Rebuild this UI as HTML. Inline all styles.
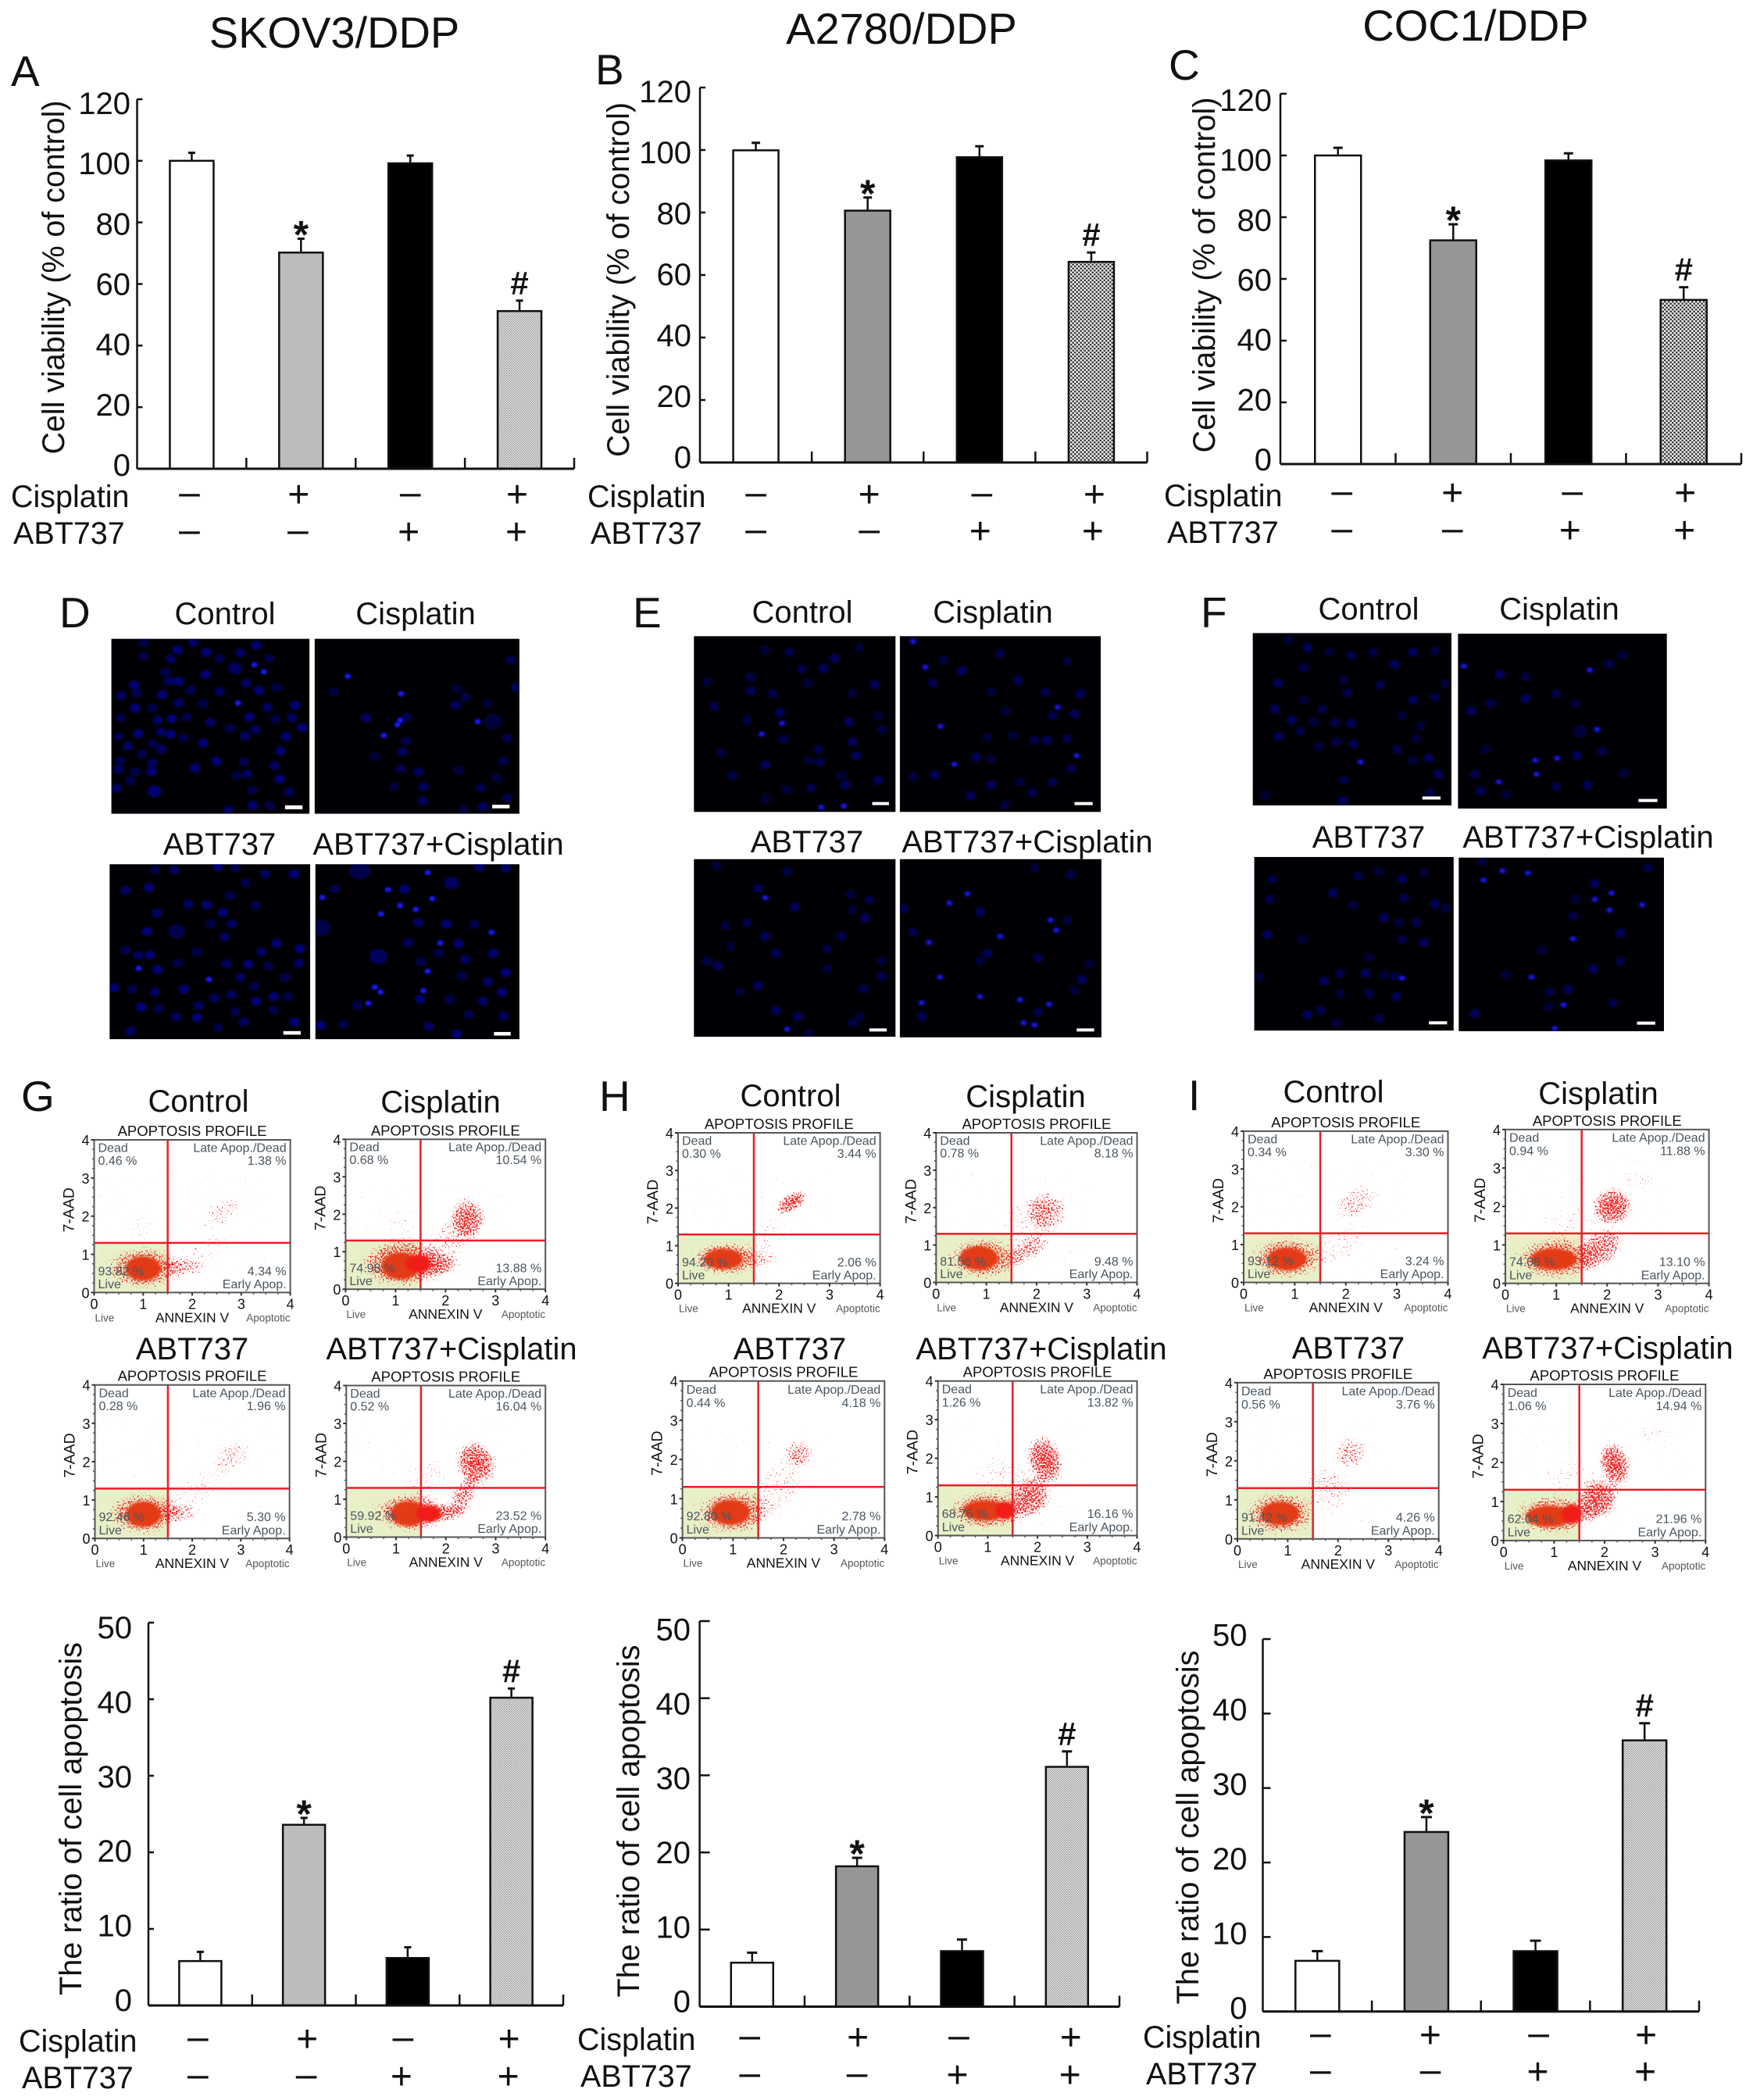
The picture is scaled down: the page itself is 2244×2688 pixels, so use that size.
<!DOCTYPE html>
<html lang="en">
<head>
<meta charset="utf-8">
<title>ABT737 and cisplatin in resistant ovarian cancer cell lines</title>
<style>
html,body{margin:0;padding:0;background:#fff;}
svg{display:block;}
text{font-family:"Liberation Sans",sans-serif;fill:#111;}
.big{font-size:40px;text-anchor:middle;}
.title{font-size:56px;text-anchor:middle;}
.letter{font-size:55px;}
</style>
</head>
<body>
<svg id="figure" xmlns="http://www.w3.org/2000/svg" width="2244" height="2688" viewBox="0 0 2244 2688">
<defs>
<pattern id="checkDark" width="5" height="5" patternUnits="userSpaceOnUse"><rect width="5" height="5" fill="#ececec"/><circle cx="1.2" cy="1.2" r="1.3" fill="#333"/><circle cx="3.7" cy="3.7" r="1.3" fill="#333"/></pattern>
<pattern id="stippleLight" width="3" height="3" patternUnits="userSpaceOnUse"><rect width="3" height="3" fill="#ececec"/><rect width="1.5" height="1.5" fill="#969696"/><rect x="1.5" y="1.5" width="1.5" height="1.5" fill="#a0a0a0"/></pattern>
<radialGradient id="haloFill"><stop offset="0" stop-color="#000" stop-opacity="1"/><stop offset=".6" stop-color="#000" stop-opacity=".75"/><stop offset="1" stop-color="#000" stop-opacity="0"/></radialGradient>
<filter id="speckle" x="-10%" y="-10%" width="120%" height="120%" color-interpolation-filters="sRGB">
<feTurbulence type="fractalNoise" baseFrequency="0.5" numOctaves="2" seed="7" result="noise"/>
<feColorMatrix in="noise" type="matrix" values="0 0 0 0 0 0 0 0 0 0 0 0 0 0 0 1 0 0 0 0" result="noiseAlpha"/>
<feComposite in="SourceAlpha" in2="noiseAlpha" operator="arithmetic" k1="0" k2="0.42" k3="1" k4="-0.8" result="sum"/>
<feComponentTransfer in="sum" result="mask"><feFuncA type="linear" slope="10" intercept="0"/></feComponentTransfer>
<feFlood flood-color="#f01c1c"/>
<feComposite in2="mask" operator="in"/>
</filter>
<filter id="soft" x="-5%" y="-5%" width="110%" height="110%"><feGaussianBlur stdDeviation="2 3"/></filter>
<filter id="coreSoft" x="-20%" y="-20%" width="140%" height="140%"><feGaussianBlur stdDeviation="1.6"/></filter>
</defs>

<text class="title" x="428" y="61">SKOV3/DDP</text>
<text class="title" x="1154" y="56">A2780/DDP</text>
<text class="title" x="1889" y="52">COC1/DDP</text>

<text class="letter" x="14" y="110">A</text>
<text class="letter" x="762" y="108">B</text>
<text class="letter" x="1496" y="102">C</text>
<text class="letter" x="76" y="803">D</text>
<text class="letter" x="810" y="803">E</text>
<text class="letter" x="1537" y="803">F</text>
<text class="letter" x="27" y="1422">G</text>
<text class="letter" x="767" y="1422">H</text>
<text class="letter" x="1521" y="1421">I</text>

<text class="big" x="288" y="799">Control</text>
<text class="big" x="532" y="799">Cisplatin</text>
<text class="big" x="281" y="1094">ABT737</text>
<text class="big" x="561" y="1094">ABT737+Cisplatin</text>
<text class="big" x="1027" y="797">Control</text>
<text class="big" x="1271" y="797">Cisplatin</text>
<text class="big" x="1033" y="1091">ABT737</text>
<text class="big" x="1315" y="1091">ABT737+Cisplatin</text>
<text class="big" x="1752" y="793">Control</text>
<text class="big" x="1996" y="793">Cisplatin</text>
<text class="big" x="1752" y="1085">ABT737</text>
<text class="big" x="2033" y="1085">ABT737+Cisplatin</text>

<text class="big" x="254" y="1423">Control</text>
<text class="big" x="564" y="1424">Cisplatin</text>
<text class="big" x="246" y="1740">ABT737</text>
<text class="big" x="578" y="1740">ABT737+Cisplatin</text>
<text class="big" x="1012" y="1416">Control</text>
<text class="big" x="1313" y="1417">Cisplatin</text>
<text class="big" x="1011" y="1740">ABT737</text>
<text class="big" x="1333" y="1740">ABT737+Cisplatin</text>
<text class="big" x="1707" y="1411">Control</text>
<text class="big" x="2046" y="1413">Cisplatin</text>
<text class="big" x="1726" y="1739">ABT737</text>
<text class="big" x="2058" y="1739">ABT737+Cisplatin</text>

<g id="charts"></g>
<g id="micro"></g>
<g id="flow"></g>
</svg>

<script>
/* ---------- bar chart data ---------- */
const cisplatinSigns = ['–','+','–','+'];
const abt737Signs = ['–','–','+','+'];
const significance = ['','*','','#'];
const viabilityTicks = [0,20,40,60,80,100,120];
const apoptosisTicks = [0,10,20,30,40,50];
const viabilitySkov3 = [100,70.2,99.2,51.2];
const viabilitySkov3Err = [2.6,4.5,2.5,3.4];
const viabilityA2780 = [99.9,80.6,97.7,64.2];
const viabilityA2780Err = [2.4,4.2,3.5,3.0];
const viabilityCoc1 = [100,72.5,98.4,53.2];
const viabilityCoc1Err = [2.5,5.2,2.3,4.1];
const apoptosisSkov3 = [5.8,23.6,6.2,40.2];
const apoptosisSkov3Err = [1.2,0.9,1.4,1.2];
const apoptosisA2780 = [5.7,18.2,7.2,31.1];
const apoptosisA2780Err = [1.3,1.1,1.5,2.0];
const apoptosisCoc1 = [6.8,24.1,8.1,36.4];
const apoptosisCoc1Err = [1.3,2.0,1.4,2.3];

/* ---------- flow cytometry data: dead, late, live, early (%) ---------- */
const flowGControl = ['0.46','1.38','93.82','4.34'];
const flowGCisplatin = ['0.68','10.54','74.98','13.88'];
const flowGAbt = ['0.28','1.96','92.46','5.30'];
const flowGCombo = ['0.52','16.04','59.92','23.52'];
const flowHControl = ['0.30','3.44','94.20','2.06'];
const flowHCisplatin = ['0.78','8.18','81.56','9.48'];
const flowHAbt = ['0.44','4.18','92.80','2.78'];
const flowHCombo = ['1.26','13.82','68.76','16.16'];
const flowIControl = ['0.34','3.30','93.12','3.24'];
const flowICisplatin = ['0.94','11.88','74.08','13.10'];
const flowIAbt = ['0.56','3.76','91.42','4.26'];
const flowICombo = ['1.06','14.94','62.04','21.96'];

/* populations in axis units: annexin, 7-AAD, radius x, radius y, tilt, density */
const coreGControl = [[1,.63,.36,.32,0]];
const haloGControl = [[1,.65,.75,.55,0,.9],[1.8,.65,.5,.22,0,.55],[2.6,2.1,.5,.3,35,.45],[2.1,1,.8,.4,25,.3],[.9,1.7,.3,.4,0,.25]];
const coreGCisplatin = [[1.1,.62,.38,.36,0],[1.45,.68,.25,.24,0]];
const haloGCisplatin = [[1.15,.7,.85,.65,0,.95],[1.8,.65,.5,.3,0,.8],[2.45,1.9,.35,.55,0,.9],[2.1,1.3,.7,.5,45,.5],[1.1,1.8,.5,.5,0,.25]];
const coreGAbt = [[1,.63,.36,.33,0]];
const haloGAbt = [[1,.65,.75,.55,0,.9],[1.7,.65,.5,.22,0,.6],[2.8,2.15,.45,.35,30,.5],[2,1.2,.9,.4,35,.3]];
const coreGCombo = [[1.25,.62,.36,.33,0],[1.65,.62,.25,.22,0]];
const haloGCombo = [[1.3,.65,.75,.5,0,.95],[1.95,.65,.5,.22,0,.8],[2.6,1.95,.4,.6,30,1],[2.35,1.1,.45,.3,60,.8],[1.6,1.6,.5,.5,0,.35]];
const coreHControl = [[.9,.65,.38,.27,0]];
const haloHControl = [[.95,.65,.7,.45,0,.9],[1.7,.65,.4,.25,0,.35],[2.25,2.15,.35,.25,30,.95],[1.8,1.2,.6,.5,45,.3]];
const coreHCisplatin = [[.85,.65,.38,.32,0]];
const haloHCisplatin = [[.95,.65,.7,.55,0,.9],[1.8,.85,.5,.28,30,.7],[2.2,1.9,.4,.55,15,.75],[1.8,1.6,.5,.7,0,.35]];
const coreHAbt = [[.95,.65,.38,.32,0]];
const haloHAbt = [[1,.65,.75,.55,0,.9],[2.3,2.15,.3,.35,0,.7],[1.9,1.3,.7,.6,45,.4]];
const coreHCombo = [[.95,.65,.45,.26,0],[1.35,.65,.2,.22,0]];
const haloHCombo = [[1,.65,.8,.5,0,.9],[1.85,1,.45,.5,40,.95],[2.15,1.95,.35,.65,15,1],[1.3,1.6,.6,.5,0,.35]];
const coreIControl = [[.85,.62,.38,.3,0]];
const haloIControl = [[.85,.65,.7,.55,0,.9],[2.2,2.1,.5,.4,30,.55],[1.85,1,.6,.45,30,.4]];
const coreICisplatin = [[.95,.63,.45,.28,0]];
const haloICisplatin = [[1,.65,.8,.55,0,.9],[1.85,.9,.55,.45,35,.85],[2.1,2,.4,.5,30,1],[1.3,1.6,.6,.5,0,.3],[2.6,2.7,.35,.25,0,.35]];
const coreIAbt = [[.85,.65,.38,.3,0]];
const haloIAbt = [[.85,.65,.7,.55,0,.9],[2.25,2.2,.35,.4,30,.65],[1.8,1.3,.55,.6,0,.45]];
const coreICombo = [[.9,.62,.45,.27,0],[1.35,.68,.2,.24,0]];
const haloICombo = [[1,.65,.8,.5,0,.9],[1.85,1.05,.45,.5,40,1],[2.2,1.95,.3,.6,15,1],[1.3,1.6,.6,.5,0,.3],[3,2.7,.35,.25,0,.3]];

const flowXTicks = [0,1,2,3,4];
const flowYTicks = [0,1,2,3,4];
const gateAnnexin = 1.5;
const gateAad = 1.3;

const NS = 'http://www.w3.org/2000/svg';
function add(parent, tag, attrs, text) {
  const node = document.createElementNS(NS, tag);
  for (const k in attrs) node.setAttribute(k, attrs[k]);
  if (text !== undefined) node.textContent = text;
  parent.appendChild(node);
  return node;
}

/* ---------- bar charts ---------- */
const chartsRoot = document.getElementById('charts');
function drawBarChart(c) {
  const g = add(chartsRoot, 'g', {});
  
  
  const maxTick = c.ticks[c.ticks.length - 1];
  const yScale = v => c.y0 + (c.yTop - c.y0) * v / maxTick;
  const band = (c.right - c.left) / c.values.length;
  const xCenter = i => c.left + band * (i + 0.5);

  c.values.forEach((v, i) => {
    const top = yScale(v);
    const bar = add(g, 'rect', {x: xCenter(i) - c.barW / 2, y: top, width: c.barW, height: c.y0 - top, fill: c.fills[i], stroke: '#111', 'stroke-width': 2.5});
    
    
    const errTop = yScale(v + c.errors[i]);
    const stem = add(g, 'line', {x1: xCenter(i), x2: xCenter(i), y1: top, y2: errTop, stroke: '#111', 'stroke-width': 2.5});
    
    
    const cap = add(g, 'line', {x1: xCenter(i) - c.capW / 2, x2: xCenter(i) + c.capW / 2, y1: errTop, y2: errTop, stroke: '#111', 'stroke-width': 3});
    
    
    if (significance[i] === '*') {
      const star = add(g, 'text', {x: xCenter(i), y: errTop + 12, 'font-size': 50, 'font-weight': 'bold', 'text-anchor': 'middle'}, '*');
      
      
    }
    if (significance[i] === '#') {
      const hash = add(g, 'text', {x: xCenter(i), y: errTop - 8, 'font-size': 42, 'font-weight': 'bold', 'text-anchor': 'middle'}, '#');
      
      
    }
  });

  const yAxis = add(g, 'line', {x1: c.left, x2: c.left, y1: c.yTop, y2: c.y0, stroke: '#111', 'stroke-width': 2.5});
  
  
  const xAxis = add(g, 'line', {x1: c.left, x2: c.right, y1: c.y0, y2: c.y0, stroke: '#111', 'stroke-width': 3});
  
  

  for (let i = 1; i <= c.values.length; i++) {
    const xt = add(g, 'line', {x1: c.left + band * i, x2: c.left + band * i, y1: c.y0, y2: c.y0 - 14, stroke: '#111', 'stroke-width': 2.5});
    
    
  }
  c.ticks.forEach((t, i) => {
    const yt = add(g, 'line', {x1: c.left, x2: c.left + c.tickLen, y1: yScale(t), y2: yScale(t), stroke: '#111', 'stroke-width': 2.5});
    
    
    const frac = i / (c.ticks.length - 1);
    const ly = c.labelBottom + (c.labelTop - c.labelBottom) * frac;
    const lab = add(g, 'text', {x: c.labelRight, y: ly + 14, 'font-size': 40, 'text-anchor': 'end'}, String(t));
    
    
  });

  const yTitle = add(g, 'text', {x: c.titleX, y: c.titleY, 'font-size': 39.5, 'text-anchor': 'middle', textLength: c.titleLen, lengthAdjust: 'spacingAndGlyphs', transform: 'rotate(-90 ' + c.titleX + ' ' + c.titleY + ')'}, c.yTitle);
  
  

  const r1 = add(g, 'text', {x: c.row1LabelX, y: c.row1Base, 'font-size': 39.5}, 'Cisplatin');
  
  
  const r2 = add(g, 'text', {x: c.row2LabelX, y: c.row2Base, 'font-size': 39.5}, 'ABT737');
  
  

  cisplatinSigns.forEach((s, i) => {
    const base = c.rowY1 + (s === '+' ? 16 : 13);
    const sign = add(g, 'text', {x: xCenter(i) + c.signShift1[i], y: base, 'font-size': 48, 'text-anchor': 'middle'}, s);
    
    
  });
  abt737Signs.forEach((s, i) => {
    const base = c.rowY2 + (s === '+' ? 16 : 13);
    const sign = add(g, 'text', {x: xCenter(i) + c.signShift2[i], y: base, 'font-size': 48, 'text-anchor': 'middle'}, s);
    
    
  });
}

const viabilityTitle = 'Cell viability (% of control)';
const apoptosisTitle = 'The ratio of cell apoptosis';
drawBarChart({id:'a', values:viabilitySkov3, errors:viabilitySkov3Err, ticks:viabilityTicks, left:175.5, right:735, y0:600, yTop:127, barW:56, capW:9, tickLen:7,
  fills:['#fff','#bcbcbc','#000','url(#stippleLight)'], labelTop:132, labelBottom:595, labelRight:167, yTitle:viabilityTitle, titleX:82, titleY:355, titleLen:453,
  row1LabelX:14, row2LabelX:17, row1Base:649, row2Base:696, rowY1:633, rowY2:681, signShift1:[-3,-3,0,-3], signShift2:[-3,-4,-2,-4]});
drawBarChart({id:'b', values:viabilityA2780, errors:viabilityA2780Err, ticks:viabilityTicks, left:896, right:1468.5, y0:592, yTop:112, barW:58, capW:11, tickLen:7,
  fills:['#fff','#969696','#000','url(#checkDark)'], labelTop:117, labelBottom:585, labelRight:885, yTitle:viabilityTitle, titleX:805, titleY:358, titleLen:454,
  row1LabelX:752, row2LabelX:756, row1Base:649, row2Base:696, rowY1:633, rowY2:680, signShift1:[0,2,3,4], signShift2:[0,2,1,2]});
drawBarChart({id:'c', values:viabilityCoc1, errors:viabilityCoc1Err, ticks:viabilityTicks, left:1639, right:2229, y0:594, yTop:120, barW:59, capW:12, tickLen:8,
  fills:['#fff','#969696','#000','url(#checkDark)'], labelTop:128, labelBottom:588, labelRight:1628, yTitle:viabilityTitle, titleX:1555, titleY:352, titleLen:455,
  row1LabelX:1490, row2LabelX:1494, row1Base:648, row2Base:695, rowY1:631, rowY2:679, signShift1:[5,-1,5,2], signShift2:[5,-1,2,1]});
drawBarChart({id:'g', values:apoptosisSkov3, errors:apoptosisSkov3Err, ticks:apoptosisTicks, left:190, right:721, y0:2567, yTop:2077, barW:54, capW:9, tickLen:7,
  fills:['#fff','#bcbcbc','#000','url(#stippleLight)'], labelTop:2083, labelBottom:2560, labelRight:169, yTitle:apoptosisTitle, titleX:104, titleY:2328, titleLen:452,
  row1LabelX:24, row2LabelX:28, row1Base:2626, row2Base:2673, rowY1:2610, rowY2:2658, signShift1:[-3,4,-6,-3], signShift2:[-3,3,-8,-4]});
drawBarChart({id:'h', values:apoptosisA2780, errors:apoptosisA2780Err, ticks:apoptosisTicks, left:895.6, right:1433, y0:2568.5, yTop:2075, barW:54, capW:13, tickLen:13,
  fills:['#fff','#969696','#000','url(#stippleLight)'], labelTop:2085.5, labelBottom:2561.5, labelRight:884, yTitle:apoptosisTitle, titleX:818, titleY:2331, titleLen:451,
  row1LabelX:739, row2LabelX:743, row1Base:2624, row2Base:2671, rowY1:2608, rowY2:2656, signShift1:[-3,1,-4,5], signShift2:[-3,0,-6,4]});
drawBarChart({id:'i', values:apoptosisCoc1, errors:apoptosisCoc1Err, ticks:apoptosisTicks, left:1616.5, right:2175, y0:2574.7, yTop:2098, barW:56, capW:14, tickLen:10,
  fills:['#fff','#969696','#000','url(#stippleLight)'], labelTop:2092.5, labelBottom:2570, labelRight:1596.5, yTitle:apoptosisTitle, titleX:1534, titleY:2339, titleLen:453,
  row1LabelX:1463, row2LabelX:1467, row1Base:2621, row2Base:2668, rowY1:2605, rowY2:2652, signShift1:[4,5,4,2], signShift2:[4,5,3,1]});

/* ---------- fluorescence micrographs ---------- */
const microRoot = document.getElementById('micro');
let clipCount = 0;
function drawMicrograph(name, zoomTransform, frame, bar, dim, bright, rx, ry, level) {
  const outer = add(microRoot, 'g', {transform: zoomTransform});
  
  
  const id = 'mclip' + (++clipCount);
  const cp = add(outer, 'clipPath', {id: id});
  add(cp, 'rect', {x: frame[0], y: frame[1], width: frame[2] - frame[0], height: frame[3] - frame[1]});
  const bg = add(outer, 'rect', {x: frame[0], y: frame[1], width: frame[2] - frame[0], height: frame[3] - frame[1], fill: '#000004'});
  
  
  const inner = add(add(outer, 'g', {'clip-path': 'url(#' + id + ')'}), 'g', {filter: 'url(#soft)'});
  dim.forEach((p, i) => {
    const k = p[2] || 1;
    const n = add(inner, 'ellipse', {cx: p[0], cy: p[1], rx: rx * k, ry: ry * k, fill: '#0000a0', 'fill-opacity': (0.45 + (i % 3) * 0.13) * level});
    
    
  });
  bright.forEach(p => {
    const n = add(inner, 'ellipse', {cx: p[0], cy: p[1], rx: rx * 0.6, ry: ry * 0.6, fill: '#1414ee'});
    
    
  });
  const sb = add(outer, 'rect', {x: bar[0], y: bar[1], width: bar[2] - bar[0], height: bar[3] - bar[1], fill: '#fff'});
  
  
}
const zoomD = 'translate(60,740) scale(0.4464,0.3827)';
const zoomEF = 'translate(770,740) scale(0.9315,0.3953)';
drawMicrograph('d-control', zoomD, [185,203,753,788], [683,760,733,773],
 [[278,216],[420,215],[375,240],[277,260],[355,270],[457,248],[495,268],[555,250],[600,225],[638,268],[540,302,1.3],[455,322],[340,315],[350,345],[378,345],[412,375],[572,352],[608,375],[658,365],[495,380],[250,358],[258,385],[213,393],[330,390],[448,420],[378,418],[252,435],[303,435],[632,432],[712,425],[212,467],[318,475],[358,470],[400,465],[468,482],[580,465],[655,472],[703,467],[732,500],[525,503],[597,507],[262,520],[205,530],[327,515],[355,522],[392,535],[568,528],[685,530],[303,553],[232,562],[448,552],[272,588],[328,572],[670,578],[210,610],[303,618],[487,612],[565,615],[652,628],[424,635],[253,648],[205,640],[300,648],[545,660],[575,655],[668,672],[238,678],[200,703],[308,713,1.3],[590,710],[695,715],[590,760],[640,762],[520,775]],
 [[595,290],[622,313],[548,418]], 15, 15, 1);
drawMicrograph('d-cisplatin', zoomD, [768,203,1355,788], [1277,758,1327,770],
 [[1175,370],[1200,398],[1172,425],[1265,420],[1032,465],[915,467],[1280,480,1.7],[1030,545],[1020,580],[940,597],[1015,638],[1065,648],[1180,642],[1308,612],[1080,698],[995,698],[1245,702],[1078,745],[1290,668],[1330,275],[1345,365],[823,380],[1320,535],[1250,765],[1195,775],[1320,735]],
 [[863,328],[1016,387],[1013,475],[1005,490],[966,526],[1235,480]], 15, 15, .8);
drawMicrograph('d-abt737', zoomD, [180,957,755,1542], [678,1515,728,1527],
 [[310,975],[365,975],[490,965],[540,968],[625,990],[708,990],[570,1020],[225,1045],[293,1035],[525,1062],[405,1090],[458,1093],[598,1095],[315,1120],[505,1118],[470,1155],[530,1157],[287,1182],[372,1182,1.6],[510,1200],[658,1222],[225,1245],[263,1262],[295,1260],[430,1250],[615,1250],[725,1240],[375,1288],[515,1290],[577,1292],[635,1297],[722,1288],[317,1310],[683,1335],[555,1335],[192,1370],[245,1375],[310,1385],[393,1375],[595,1365],[530,1393],[650,1400],[690,1400],[480,1405],[270,1435],[320,1440],[435,1430],[600,1415],[650,1445],[370,1468],[430,1470],[540,1450],[565,1485],[710,1485],[490,1503],[240,1515]],
 [[263,1305],[465,1342]], 15, 15, 1);
drawMicrograph('d-combo', zoomD, [770,957,1355,1542], [1282,1518,1330,1530],
 [[897,978,2],[1160,1020,1.4],[1025,1040],[825,1040],[1315,970],[1240,965],[785,1170,1.8],[1065,1152],[1145,1157],[1225,1158],[1035,1220],[1180,1222],[1123,1255],[950,1265,1.7],[1280,1255],[1072,1282],[1200,1275],[1315,1320],[1190,1330],[1265,1350],[1305,1385],[1155,1410],[1250,1415],[1070,1408],[1210,1460],[1310,1465],[785,1495],[850,1492],[1095,1500],[1175,1525],[890,1430]],
 [[1092,985],[978,1042],[790,1068],[1013,1095],[1105,1072],[1058,1108],[958,1123],[1275,1185],[1128,1220],[1092,1315],[940,1368],[957,1384],[1080,1380],[922,1422]], 15, 15, 1);

drawMicrograph('e-control', zoomEF, [127,188,404,757], [372,725,395,735],
 [[225,232],[258,240],[320,260],[355,225],[275,295],[305,292],[145,335],[205,322],[375,345],[283,340],[235,375],[205,365],[345,375],[155,415],[245,435],[380,445],[200,460],[340,465],[385,490],[250,522],[345,530],[165,565],[298,555],[350,575],[285,590],[300,595],[225,605],[330,640],[180,640],[380,655],[255,685],[288,680],[335,670],[225,715]],
 [[248,470],[220,505],[333,738],[302,742]], 6.5, 15, .8);
drawMicrograph('e-cisplatin', zoomEF, [410,188,686,757], [650,725,675,735],
 [[470,265],[548,245],[495,300],[640,270],[455,340],[572,332],[535,370],[610,370],[658,375],[555,430],[620,445],[650,440],[530,515],[595,525],[612,525],[565,510],[640,520],[515,580],[535,585],[645,617],[458,637],[428,645],[620,662],[535,670],[575,660],[592,695],[507,705],[555,735]],
 [[428,205],[445,288],[627,418],[466,480],[653,575],[485,603]], 6.5, 15, .8);
drawMicrograph('e-abt737', zoomEF, [127,910,404,1485], [368,1458,392,1468],
 [[158,930],[255,950],[215,1005],[342,1025],[368,1042],[265,1065],[345,1075],[200,1115],[362,1100],[170,1125],[330,1160],[225,1160],[178,1190],[310,1200],[240,1215],[385,1240],[145,1240],[160,1255],[310,1265],[385,1290],[215,1320],[190,1340],[360,1330],[240,1400],[355,1420],[345,1440],[270,1420],[285,1475]],
 [[225,1035],[255,1460]], 6.5, 15, .8);
drawMicrograph('e-combo', zoomEF, [410,910,687,1487], [653,1458,677,1468],
 [[595,940],[415,1070],[520,1080],[640,1107],[428,1145],[530,1215],[670,1250],[600,1230],[660,1300],[650,1335],[600,1405],[440,1420],[520,1240],[645,960]],
 [[503,1022],[478,1052],[617,1107],[625,1140],[548,1160],[450,1180],[465,1292],[520,1355],[575,1365],[440,1375],[615,1380],[580,1440],[595,1447]], 6.5, 15, .8);
drawMicrograph('f-control', zoomEF, [895,178,1168,736], [1128,707,1153,717],
 [[945,200],[1030,250],[970,225],[1000,240],[1060,240],[1115,240],[1145,235],[965,290],[1090,280],[1020,330],[1070,345],[930,340],[1160,340],[1025,372],[1115,395],[965,395],[990,425],[925,425],[1100,445],[1145,385],[948,460],[978,465],[1008,468],[1030,470],[1125,480],[960,495],[930,513],[985,545],[1010,530],[1033,537],[1120,520],[1093,555],[1137,583],[1115,590],[1020,655],[1150,635],[912,703],[1138,695],[1018,720]],
 [[1043,595]], 6.5, 15, .8);
drawMicrograph('f-cisplatin', zoomEF, [1177,180,1464,746], [1425,715,1451,725],
 [[1403,250],[1385,278],[1235,312],[1270,320],[1312,375],[1270,390],[1338,405],[1222,405],[1195,430],[1345,495,1.4],[1375,560],[1340,575],[1405,632],[1200,635],[1208,690],[1243,700],[1312,675],[1355,670],[1215,555]],
 [[1185,285],[1358,298],[1368,490],[1283,590],[1313,583],[1285,635],[1233,660]], 6.5, 15, .8);
drawMicrograph('f-abt737', zoomEF, [897,903,1171,1465], [1137,1435,1162,1445],
 [[1068,950],[1040,965],[1100,975],[1130,955],[922,975],[1005,1020],[1033,1060],[1103,1035],[1145,1055],[1160,1070],[918,1040],[1075,1100],[1095,1115],[1120,1115],[915,1155],[963,1170],[1100,1170],[1130,1180],[1055,1228],[1015,1280],[1050,1280],[1075,1285],[1090,1290],[993,1305],[905,1290],[1055,1345],[1092,1355],[1015,1345],[988,1400],[970,1415],[1010,1440],[1068,1425]],
 [[1100,1295]], 6.5, 15, .8);
drawMicrograph('f-combo', zoomEF, [1178,905,1460,1467], [1423,1436,1448,1446],
 [[1210,918],[1438,938],[1365,990],[1338,1040],[1335,1095],[1400,1150],[1292,1205],[1400,1240],[1363,1265],[1243,1285],[1303,1340],[1328,1332],[1302,1388],[1390,1375],[1200,1410]],
 [[1238,948],[1273,955],[1212,978],[1388,1020],[1365,1040],[1430,1058],[1385,1075],[1335,1168],[1278,1292],[1322,1382],[1310,1458]], 6.5, 15, .8);

/* ---------- flow cytometry plots ---------- */
const flowRoot = document.getElementById('flow');
function drawFlowPlot(name, box, percents, core, halo) {
  const [bx1, by1, bx2, by2] = box;
  const g = add(flowRoot, 'g', {});
  
  
  const xs = v => bx1 + (bx2 - bx1) * v / 4;
  const ys = v => by2 - (by2 - by1) * v / 4;
  const sx = (bx2 - bx1) / 4;
  const sy = (by2 - by1) / 4;

  const frame = add(g, 'rect', {x: bx1, y: by1, width: bx2 - bx1, height: by2 - by1, fill: '#fff'});
  
  
  const gate = add(g, 'rect', {x: bx1, y: ys(gateAad), width: xs(gateAnnexin) - bx1, height: by2 - ys(gateAad), fill: '#e8f0c8'});
  
  

  const id = 'fclip' + (++clipCount);
  const cp = add(g, 'clipPath', {id: id});
  add(cp, 'rect', {x: bx1, y: by1, width: bx2 - bx1, height: by2 - by1});
  const clipped = add(g, 'g', {'clip-path': 'url(#' + id + ')'});
  const speck = add(clipped, 'g', {filter: 'url(#speckle)'});
  halo.forEach(h => {
    const cx = xs(h[0]), cy = ys(h[1]);
    const e = add(speck, 'ellipse', {cx: cx, cy: cy, rx: h[2] * sx * 1.15, ry: h[3] * sy * 1.15, fill: 'url(#haloFill)', 'fill-opacity': h[5], transform: 'rotate(' + (-h[4]) + ' ' + cx + ' ' + cy + ')'});
    
    
  });
  const coreGroup = add(clipped, 'g', {filter: 'url(#coreSoft)'});
  core.forEach((h, i) => {
    const cx = xs(h[0]), cy = ys(h[1]);
    const e = add(coreGroup, 'ellipse', {cx: cx, cy: cy, rx: h[2] * sx, ry: h[3] * sy, fill: i ? '#f01a14' : '#e23a12', transform: 'rotate(' + (-h[4]) + ' ' + cx + ' ' + cy + ')'});
    
    
  });

  const vGate = add(g, 'line', {x1: xs(gateAnnexin), x2: xs(gateAnnexin), y1: by1, y2: by2, stroke: '#ee1c28', 'stroke-width': 2.5});
  
  
  const hGate = add(g, 'line', {x1: bx1, x2: bx2, y1: ys(gateAad), y2: ys(gateAad), stroke: '#ee1c28', 'stroke-width': 2.5});
  
  
  const border = add(g, 'rect', {x: bx1, y: by1, width: bx2 - bx1, height: by2 - by1, fill: 'none', stroke: '#555', 'stroke-width': 2});
  
  

  flowXTicks.forEach((t, i) => {
    const tick = add(g, 'line', {x1: xs(t), x2: xs(t), y1: by2, y2: by2 + 4, stroke: '#333', 'stroke-width': 2});
    
    
    const lab = add(g, 'text', {x: xs(t), y: by2 + 21, 'font-size': 18, 'text-anchor': 'middle', fill: '#222'}, String(t));
    
    
    if (i < flowXTicks.length - 1) {
      [0.25, 0.5, 0.75].forEach(f => {
        const minor = add(g, 'line', {x1: xs(t + f), x2: xs(t + f), y1: by2, y2: by2 + 2.5, stroke: '#555', 'stroke-width': 1.5});
        
        
      });
    }
  });
  flowYTicks.forEach((t, i) => {
    const tick = add(g, 'line', {x1: bx1 - 4, x2: bx1, y1: ys(t), y2: ys(t), stroke: '#333', 'stroke-width': 2});
    
    
    const lab = add(g, 'text', {x: bx1 - 6, y: ys(t) + 7, 'font-size': 18, 'text-anchor': 'end', fill: '#222'}, String(t));
    
    
    if (i < flowYTicks.length - 1) {
      [0.25, 0.5, 0.75].forEach(f => {
        const minor = add(g, 'line', {x1: bx1 - 2.5, x2: bx1, y1: ys(t + f), y2: ys(t + f), stroke: '#555', 'stroke-width': 1.5});
        
        
      });
    }
  });

  const tl = bx1 + 5, tr = bx2 - 5;
  const quadText = [
    [tl, 3.68, 'start', 'Dead'], [tl, 3.34, 'start', percents[0] + ' %'],
    [tr, 3.68, 'end', 'Late Apop./Dead'], [tr, 3.34, 'end', percents[1] + ' %'],
    [tl, 0.45, 'start', percents[2] + ' %'], [tl, 0.11, 'start', 'Live'],
    [tr, 0.45, 'end', percents[3] + ' %'], [tr, 0.11, 'end', 'Early Apop.']
  ];
  quadText.forEach(q => {
    const t = add(g, 'text', {x: q[0], y: ys(q[1]), 'font-size': 16, 'text-anchor': q[2], style: 'fill:#4a5560'}, q[3]);
    
    
  });

  const title = add(g, 'text', {x: (bx1 + bx2) / 2, y: by1 - 5, 'font-size': 18.5, 'text-anchor': 'middle'}, 'APOPTOSIS PROFILE');
  
  
  const xTitle = add(g, 'text', {x: (bx1 + bx2) / 2, y: by2 + 38, 'font-size': 17.5, 'text-anchor': 'middle'}, 'ANNEXIN V');
  
  
  const liveNote = add(g, 'text', {x: bx1 + 1, y: by2 + 37, 'font-size': 13.5, style: 'fill:#555'}, 'Live');
  
  
  const apoNote = add(g, 'text', {x: bx2, y: by2 + 37, 'font-size': 13.5, 'text-anchor': 'end', style: 'fill:#555'}, 'Apoptotic');
  
  
  const yx = bx1 - 26, yy = (by1 + by2) / 2 - 8;
  const yTitle = add(g, 'text', {x: yx, y: yy, 'font-size': 19.5, 'text-anchor': 'middle', transform: 'rotate(-90 ' + yx + ' ' + yy + ')'}, '7-AAD');
  
  
}

drawFlowPlot('g-control', [120.5,1459,371.6,1654.4], flowGControl, coreGControl, haloGControl);
drawFlowPlot('g-cisplatin', [442.4,1458.3,698.2,1650.2], flowGCisplatin, coreGCisplatin, haloGCisplatin);
drawFlowPlot('g-abt737', [121.5,1772.7,370.6,1969.2], flowGAbt, coreGAbt, haloGAbt);
drawFlowPlot('g-combo', [443.3,1773.5,698.2,1967.5], flowGCombo, coreGCombo, haloGCombo);
drawFlowPlot('h-control', [868,1450,1126.6,1642.7], flowHControl, coreHControl, haloHControl);
drawFlowPlot('h-cisplatin', [1198.3,1450,1455.5,1641.5], flowHCisplatin, coreHCisplatin, haloHCisplatin);
drawFlowPlot('h-abt737', [873.6,1767.7,1132.3,1968.5], flowHAbt, coreHAbt, haloHAbt);
drawFlowPlot('h-combo', [1200.7,1767.7,1455.5,1965.5], flowHCombo, coreHCombo, haloHCombo);
drawFlowPlot('i-control', [1592,1447.9,1853.5,1641.5], flowIControl, coreIControl, haloIControl);
drawFlowPlot('i-cisplatin', [1927,1445.8,2187.6,1642.7], flowICisplatin, coreICisplatin, haloICisplatin);
drawFlowPlot('i-abt737', [1584,1769.8,1841.7,1969.8], flowIAbt, coreIAbt, haloIAbt);
drawFlowPlot('i-combo', [1924.7,1772,2183.3,1971.9], flowICombo, coreICombo, haloICombo);
</script>
</body>
</html>
